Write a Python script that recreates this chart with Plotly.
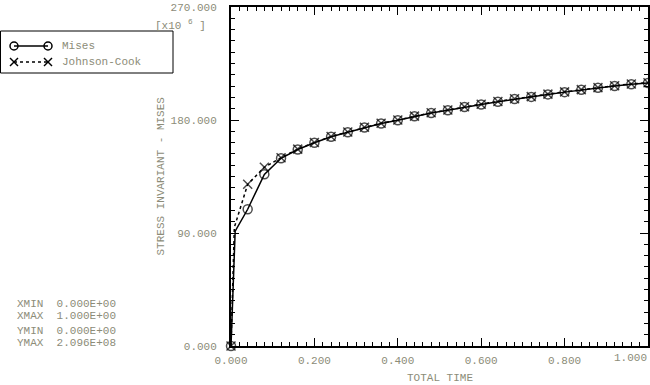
import plotly.graph_objects as go

# ---------------- data (stress values in units of 1e6) ----------------
time_mises = [0.0, 0.010, 0.04, 0.08, 0.12, 0.16, 0.20, 0.24, 0.28, 0.32, 0.36,
              0.40, 0.44, 0.48, 0.52, 0.56, 0.60, 0.64, 0.68, 0.72, 0.76, 0.80,
              0.84, 0.88, 0.92, 0.96, 1.00]
stress_mises = [0.0, 91.5, 108.9, 136.7, 149.5, 156.5, 161.9, 166.6, 170.2, 174.0,
                177.2, 179.8, 182.9, 185.5, 187.8, 190.3, 192.4, 194.6, 196.7,
                198.4, 200.4, 202.2, 204.0, 205.6, 207.1, 208.5, 209.5]
time_jc = [0.0, 0.008, 0.04, 0.08, 0.12, 0.16, 0.20, 0.24, 0.28, 0.32, 0.36,
           0.40, 0.44, 0.48, 0.52, 0.56, 0.60, 0.64, 0.68, 0.72, 0.76, 0.80,
           0.84, 0.88, 0.92, 0.96, 1.00]
stress_jc = [0.0, 94.5, 128.8, 142.3, 150.0, 156.8, 162.1, 166.8, 170.4, 174.2,
             177.4, 180.0, 183.1, 185.7, 188.0, 190.5, 192.6, 194.8, 196.9,
             198.6, 200.6, 202.4, 204.2, 205.8, 207.3, 208.7, 209.6]
# symbol shown only on output increments (not on the first small increment)
symbol_shown = [True, False] + [True] * 25

x_tick_vals = [0.0, 0.2, 0.4, 0.6, 0.8, 1.0]
x_tick_text = ["0.000", "0.200", "0.400", "0.600", "0.800", "1.000"]
y_tick_vals = [0, 90, 180, 270]
y_tick_text = ["0.000", "90.000", "180.000", "270.000"]

series_names = ["Mises", "Johnson-Cook"]
info_lines = [("XMIN", "0.000E+00"), ("XMAX", "1.000E+00"),
              ("YMIN", "0.000E+00"), ("YMAX", "2.096E+08")]

# ---------------- layout helpers ----------------
W, H = 650, 385
ML, MR, MT, MB = 231, 2, 7, 39
PW, PH = W - ML - MR, H - MT - MB
FONT = "Courier New, Liberation Mono, monospace"
GREY = "#8c8c78"
TFONT = dict(family=FONT, size=11, color=GREY)


def px(x):
    return (x - ML) / PW


def py(y):
    return (H - MB - y) / PH


sizes = [9 if s else 0 for s in symbol_shown]

fig = go.Figure()
fig.add_trace(go.Scatter(
    x=time_mises, y=stress_mises, mode="lines+markers", name=series_names[0],
    line=dict(color="black", width=1.5),
    marker=dict(symbol="circle-open", size=sizes, color="black",
                line=dict(width=1.5, color="black")),
    cliponaxis=False, showlegend=False))
fig.add_trace(go.Scatter(
    x=time_jc, y=stress_jc, mode="lines+markers", name=series_names[1],
    line=dict(color="black", width=1.5, dash="dot"),
    marker=dict(symbol="x-thin-open", size=sizes, color="black",
                line=dict(width=1.5, color="black")),
    cliponaxis=False, showlegend=False))

axis_common = dict(showgrid=False, zeroline=False, showline=True,
                   linecolor="black", linewidth=2, mirror="ticks",
                   ticks="inside", ticklen=8, tickwidth=1, tickcolor="black",
                   automargin=False, tickfont=TFONT)

# last x label is drawn separately (shifted left to stay inside the picture)
fig.update_xaxes(range=[0, 1], tickvals=x_tick_vals,
                 ticktext=x_tick_text[:-1] + [""],
                 ticklabelstandoff=3,
                 minor=dict(dtick=0.02, ticks="inside", ticklen=4,
                            tickwidth=1, tickcolor="black", showgrid=False),
                 **axis_common)
fig.update_yaxes(range=[0, 270], tickvals=y_tick_vals, ticktext=y_tick_text,
                 ticklabelstandoff=10,
                 minor=dict(dtick=9, ticks="inside", ticklen=4,
                            tickwidth=1, tickcolor="black", showgrid=False),
                 **axis_common)

shapes = []
annotations = []

annotations.append(dict(text=x_tick_text[-1], xref="paper", yref="paper",
                        x=px(649), y=py(358), xanchor="right", yanchor="middle",
                        showarrow=False, font=TFONT))

# legend box
shapes.append(dict(type="rect", xref="paper", yref="paper",
                   x0=px(0.5), x1=px(173), y0=py(31), y1=py(73),
                   line=dict(color="black", width=1), fillcolor="white"))
# Mises sample
ly1, ly2 = 46, 62
shapes.append(dict(type="line", xref="paper", yref="paper",
                   x0=px(14), x1=px(48), y0=py(ly1), y1=py(ly1),
                   line=dict(color="black", width=1.5)))
for cx in (14, 48):
    shapes.append(dict(type="circle", xref="paper", yref="paper",
                       x0=px(cx - 4), x1=px(cx + 4), y0=py(ly1 - 4), y1=py(ly1 + 4),
                       line=dict(color="black", width=1.5)))
# Johnson-Cook sample
shapes.append(dict(type="line", xref="paper", yref="paper",
                   x0=px(14), x1=px(48), y0=py(ly2), y1=py(ly2),
                   line=dict(color="black", width=1.5, dash="dot")))
for cx in (14, 48):
    shapes.append(dict(type="line", xref="paper", yref="paper",
                       x0=px(cx - 4), x1=px(cx + 4), y0=py(ly2 - 4), y1=py(ly2 + 4),
                       line=dict(color="black", width=1.5)))
    shapes.append(dict(type="line", xref="paper", yref="paper",
                       x0=px(cx - 4), x1=px(cx + 4), y0=py(ly2 + 4), y1=py(ly2 - 4),
                       line=dict(color="black", width=1.5)))
for name, yy in zip(series_names, (ly1, ly2)):
    annotations.append(dict(text=name, xref="paper", yref="paper",
                            x=px(60), y=py(yy), xanchor="left", yanchor="middle",
                            showarrow=False, font=TFONT))

# multiplier label
annotations.append(dict(text="[x10\u00a0<sup>6</sup>\u00a0]", xref="paper", yref="paper",
                        x=px(153), y=py(25), xanchor="left", yanchor="middle",
                        showarrow=False, font=TFONT))

# axis titles
annotations.append(dict(text="TOTAL TIME", xref="paper", yref="paper",
                        x=0.5, y=py(378), xanchor="center", yanchor="middle",
                        showarrow=False, font=TFONT))
annotations.append(dict(text="STRESS INVARIANT - MISES", xref="paper", yref="paper",
                        x=px(160), y=0.5, xanchor="center", yanchor="middle",
                        textangle=-90, showarrow=False, font=TFONT))

# min/max info block
for (lab, val), yy in zip(info_lines, (304, 316, 331, 343)):
    annotations.append(dict(text=lab + "\u00a0\u00a0" + val, xref="paper", yref="paper",
                            x=px(15), y=py(yy), xanchor="left", yanchor="middle",
                            showarrow=False, font=TFONT))

fig.update_layout(width=W, height=H, autosize=False,
                  margin=dict(l=ML, r=MR, t=MT, b=MB, pad=0),
                  paper_bgcolor="white", plot_bgcolor="white",
                  shapes=shapes, annotations=annotations, showlegend=False)

fig.write_html("out.html")
